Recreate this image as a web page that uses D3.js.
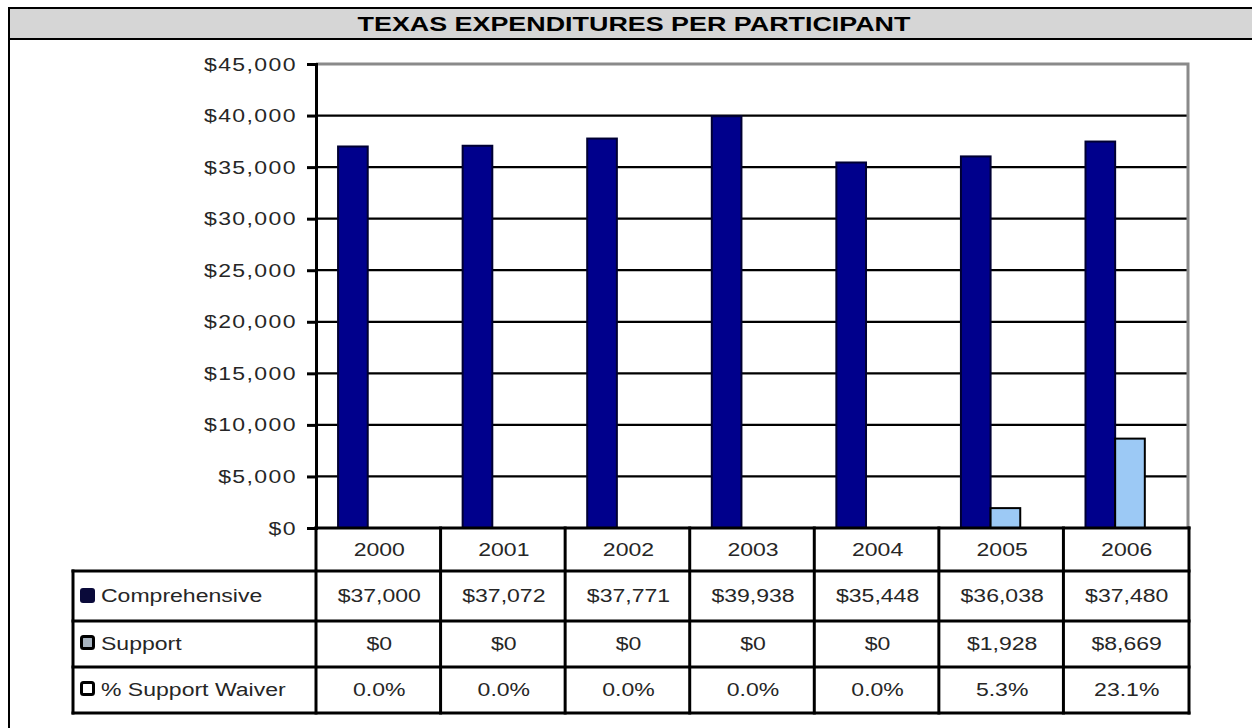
<!DOCTYPE html>
<html>
<head>
<meta charset="utf-8">
<script src="https://cdn.jsdelivr.net/npm/d3@7"></script>
<style>
  html, body { margin: 0; padding: 0; background: #fff; }
  svg { display: block; }
  text { font-family: "Liberation Sans", Arial, sans-serif; }
</style>
</head>
<body>
<svg id="chart" width="1252" height="728"></svg>
<script>
// ---- data ----
const title = "TEXAS EXPENDITURES PER PARTICIPANT";
const categories = ["2000", "2001", "2002", "2003", "2004", "2005", "2006"];
const seriesNames = ["Comprehensive", "Support", "% Support Waiver"];
const comprehensive = [37000, 37072, 37771, 39938, 35448, 36038, 37480];
const support = [0, 0, 0, 0, 0, 1928, 8669];
const supportWaiverPct = [0.0, 0.0, 0.0, 0.0, 0.0, 5.3, 23.1];
const yTicks = [0, 5000, 10000, 15000, 20000, 25000, 30000, 35000, 40000, 45000];

// ---- layout ----
const W = 1252, H = 728;
const HS = 1.28; // horizontal stretch of the original picture's text
const plot = { left: 316, right: 1188, top: 64, bottom: 528 };
const tableLeft = 73;
const rowLines = [528, 571, 621, 667, 713];
const colors = { comp: "#00008c", compStroke: "#000033", sup: "#9cc9f5", text: "#262626" };

const svg = d3.select("#chart");

// place a text at (x,y) with the horizontal stretch
const place = (sel, x, y) => sel.attr("x", 0).attr("y", 0)
  .attr("transform", `translate(${x},${y}) scale(${HS},1)`);

// outer frame + title bar
svg.append("rect").attr("x", 9).attr("y", 8).attr("width", W + 20).attr("height", H + 20)
  .attr("fill", "#fff").attr("stroke", "#000").attr("stroke-width", 2);
svg.append("rect").attr("x", 9).attr("y", 8).attr("width", W + 20).attr("height", 31)
  .attr("fill", "#d6d6d6").attr("stroke", "#000").attr("stroke-width", 2);
svg.append("text").attr("text-anchor", "middle")
  .attr("font-size", 21).attr("font-weight", "bold").attr("fill", "#000")
  .text(title).call(place, 634, 31);

// scales
const y = d3.scaleLinear().domain([0, 45000]).range([plot.bottom, plot.top]);
const x0 = d3.scaleBand().domain(categories).range([plot.left, plot.right]);
const x1 = d3.scaleBand().domain(seriesNames).range([0, x0.bandwidth()])
  .paddingInner(0).paddingOuter(0.6).align(0.62);

// gridlines
svg.append("g").selectAll("line").data(yTicks.filter(t => t > 0 && t < 45000)).join("line")
  .attr("x1", plot.left).attr("x2", plot.right)
  .attr("y1", d => y(d)).attr("y2", d => y(d))
  .attr("stroke", "#000").attr("stroke-width", 2.2);

// plot border top/right (gray)
svg.append("path")
  .attr("d", `M${plot.left},${y(45000)}H${plot.right}V${plot.bottom}`)
  .attr("fill", "none").attr("stroke", "#8a8a8a").attr("stroke-width", 3);

// bars
const barData = categories.map((c, i) => [
  { cat: c, s: seriesNames[0], v: comprehensive[i] },
  { cat: c, s: seriesNames[1], v: support[i] }
]).flat().filter(d => d.v > 0);

svg.append("g").selectAll("rect").data(barData).join("rect")
  .attr("x", d => x0(d.cat) + x1(d.s))
  .attr("y", d => y(d.v))
  .attr("width", x1.bandwidth())
  .attr("height", d => y(0) - y(d.v))
  .attr("fill", d => d.s === seriesNames[0] ? colors.comp : colors.sup)
  .attr("stroke", d => d.s === seriesNames[0] ? colors.compStroke : "#000")
  .attr("stroke-width", 2);

// y axis
const yAxis = d3.axisLeft(y).tickValues(yTicks).tickSize(9).tickPadding(5)
  .tickFormat(d3.format("$,"));
const gy = svg.append("g").attr("transform", `translate(${plot.left},0)`).call(yAxis);
gy.select(".domain").attr("stroke", "#000").attr("stroke-width", 3);
gy.selectAll(".tick line").attr("stroke", "#000").attr("stroke-width", 3);
gy.selectAll(".tick text").attr("font-size", 18).attr("letter-spacing", 1.1)
  .attr("fill", colors.text).attr("font-family", "Liberation Sans, Arial, sans-serif")
  .attr("dy", null).call(place, -19, 6);

// data table
const tbl = svg.append("g");
const lineAttrs = sel => sel.attr("stroke", "#000").attr("stroke-width", 3).attr("stroke-linecap", "square");

tbl.append("line").attr("x1", plot.left).attr("x2", plot.right + 1).attr("y1", rowLines[0]).attr("y2", rowLines[0]).call(lineAttrs);
rowLines.slice(1).forEach(yy => {
  tbl.append("line").attr("x1", tableLeft).attr("x2", plot.right + 1).attr("y1", yy).attr("y2", yy).call(lineAttrs);
});
const colEdges = categories.map(c => x0(c)).concat([plot.right + 1]);
colEdges.forEach(xx => {
  tbl.append("line").attr("x1", xx).attr("x2", xx).attr("y1", rowLines[0]).attr("y2", rowLines[4]).call(lineAttrs);
});
tbl.append("line").attr("x1", tableLeft).attr("x2", tableLeft).attr("y1", rowLines[1]).attr("y2", rowLines[4]).call(lineAttrs);

const cellText = (g, xx, yy, t) => g.append("text")
  .attr("text-anchor", "middle").attr("font-size", 18)
  .attr("fill", colors.text).text(t).call(place, xx, yy);

// year header
categories.forEach(c => {
  cellText(tbl, x0(c) + x0.bandwidth() / 2 + 1, (rowLines[0] + rowLines[1]) / 2 + 6, c);
});

const fmtDollar = d3.format("$,");
const fmtPct = d => d3.format(".1f")(d) + "%";
const rows = [
  { name: seriesNames[0], vals: comprehensive.map(fmtDollar), sym: "comp" },
  { name: seriesNames[1], vals: support.map(fmtDollar), sym: "sup" },
  { name: seriesNames[2], vals: supportWaiverPct.map(fmtPct), sym: "pct" }
];
rows.forEach((r, ri) => {
  const cy = (rowLines[ri + 1] + rowLines[ri + 2]) / 2;
  if (r.sym === "comp") {
    tbl.append("rect").attr("x", 80).attr("y", cy - 8).attr("width", 15).attr("height", 15)
      .attr("rx", 3).attr("fill", "#0a0a3a");
  } else {
    tbl.append("rect").attr("x", 81.5).attr("y", cy - 7.5).attr("width", 12).attr("height", 12)
      .attr("rx", 2).attr("fill", r.sym === "sup" ? "#a8b4c0" : "#fff")
      .attr("stroke", "#000").attr("stroke-width", 3);
  }
  tbl.append("text").attr("font-size", 18).attr("fill", colors.text)
    .text(r.name).call(place, 101, cy + 6);
  r.vals.forEach((v, i) => {
    cellText(tbl, x0(categories[i]) + x0.bandwidth() / 2 + 1, cy + 6, v);
  });
});
</script>
</body>
</html>
